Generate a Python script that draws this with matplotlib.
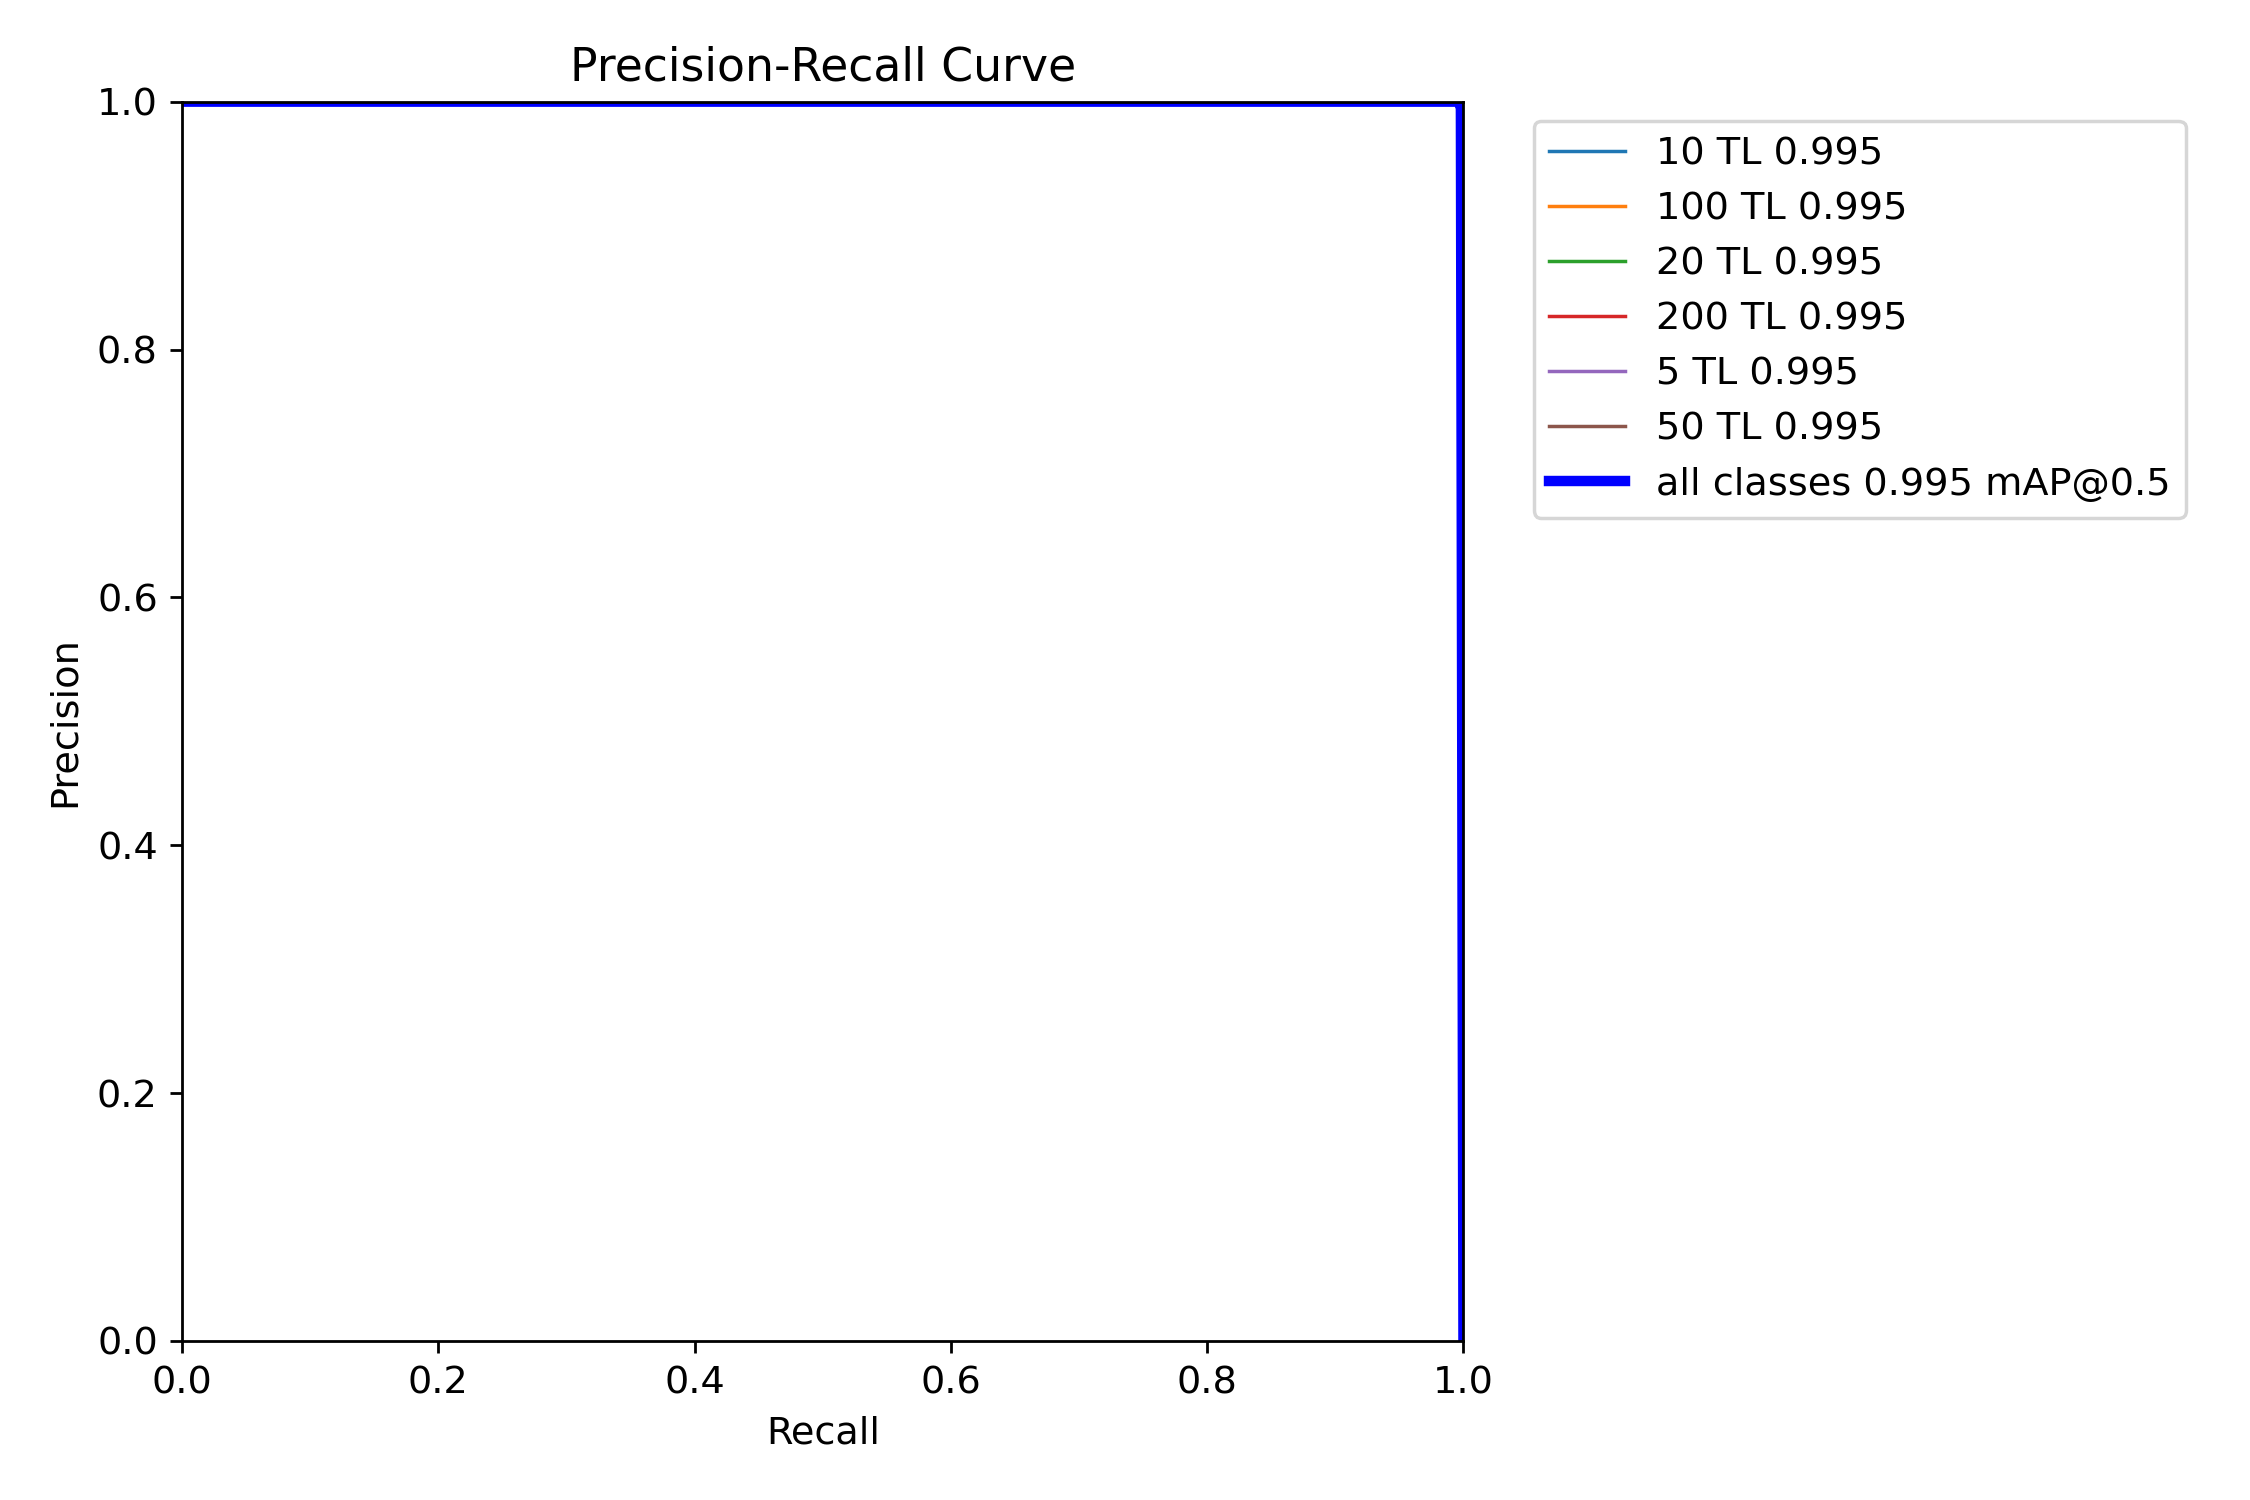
import matplotlib
matplotlib.use("Agg")
import matplotlib.pyplot as plt

# Recall / precision points (all classes overlap)
recall = [0.0, 0.996, 0.998, 0.999, 1.0]
precision = [1.0, 1.0, 0.995, 0.5, 0.0]

class_names = ["10 TL", "100 TL", "20 TL", "200 TL", "5 TL", "50 TL"]
class_ap = [0.995, 0.995, 0.995, 0.995, 0.995, 0.995]
map50 = 0.995

plt.rcParams["font.size"] = 11

fig, ax = plt.subplots(1, 1, figsize=(9, 6))

for name, ap in zip(class_names, class_ap):
    ax.plot(recall, precision, linewidth=1, label=f"{name} {ap:.3f}")

ax.plot(recall, precision, linewidth=3, color="blue", label=f"all classes {map50:.3f} mAP@0.5")

ax.set_xlabel("Recall")
ax.set_ylabel("Precision")
ax.set_xlim(0, 1)
ax.set_ylim(0, 1)
ax.legend(bbox_to_anchor=(1.04, 1), loc="upper left")
ax.set_title("Precision-Recall Curve")
fig.tight_layout(pad=1.2)
fig.savefig("out.png", dpi=250)
plt.close(fig)
